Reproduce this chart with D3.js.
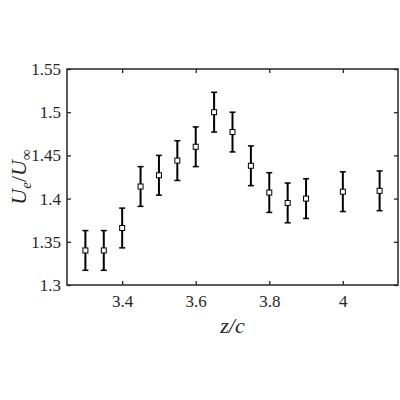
<!DOCTYPE html>
<html>
<head>
	<meta charset="utf-8">
	<script src="https://cdnjs.cloudflare.com/ajax/libs/d3/7.8.5/d3.min.js"></script>
	<style>
		body { margin: 0; background: #fff; }
	</style>
</head>
<body>
	<script>
		// positions along the span and measured velocity ratio
		const zc = [3.30, 3.35, 3.40, 3.45, 3.50, 3.55, 3.60, 3.65, 3.70, 3.75, 3.80, 3.85, 3.90, 4.00, 4.10];
		const ue = [1.340, 1.340, 1.366, 1.414, 1.427, 1.444, 1.460, 1.500, 1.477, 1.438, 1.407, 1.395, 1.400, 1.408, 1.409];
		const err = [0.023, 0.023, 0.023, 0.023, 0.023, 0.023, 0.023, 0.023, 0.023, 0.023, 0.023, 0.023, 0.023, 0.023, 0.023];
		const xTicks = [3.4, 3.6, 3.8, 4];
		const yTicks = [1.3, 1.35, 1.4, 1.45, 1.5, 1.55];

		const FONT = '"Liberation Serif"';
		const W = 400, H = 400;
		const m = {left: 67, right: 2, top: 69, bottom: 115};
		const iw = W - m.left - m.right, ih = H - m.top - m.bottom;

		const svg = d3.select('body').append('svg')
			.attr('width', W)
			.attr('height', H);

		const x = d3.scaleLinear().domain([3.25, 4.15]).range([0, iw]);
		const y = d3.scaleLinear().domain([1.3, 1.55]).range([ih, 0]);

		const g = svg.append('g').attr('transform', `translate(${m.left},${m.top})`);

		const fmt = d => String(+d.toFixed(2));

		function styleAxis(sel) {
			sel.attr('font-family', null).attr('font-size', null);
			sel.select('.domain').remove();
			sel.selectAll('.tick line').attr('stroke', '#262626').attr('stroke-width', 1.3);
			sel.selectAll('.tick text')
				.style('font-family', FONT)
				.style('font-size', '17px')
				.attr('fill', '#262626');
		}

		g.append('g').attr('transform', `translate(0,${ih})`)
			.call(d3.axisBottom(x).tickValues(xTicks).tickSize(-4).tickPadding(10).tickFormat(fmt))
			.call(styleAxis);
		g.append('g')
			.call(d3.axisTop(x).tickValues(xTicks).tickSize(-4).tickFormat(''))
			.call(styleAxis);
		g.append('g')
			.call(d3.axisLeft(y).tickValues(yTicks).tickSize(-4).tickPadding(6).tickFormat(fmt))
			.call(styleAxis);
		g.append('g').attr('transform', `translate(${iw},0)`)
			.call(d3.axisRight(y).tickValues(yTicks).tickSize(-4).tickFormat(''))
			.call(styleAxis);

		g.append('rect')
			.attr('width', iw).attr('height', ih)
			.attr('fill', 'none').attr('stroke', '#262626').attr('stroke-width', 1.5);

		const pts = zc.map((z, i) => ({z: z, u: ue[i], e: err[i]}));

		const bars = g.selectAll('.bar').data(pts).enter().append('g').attr('class', 'bar');
		bars.append('line')
			.attr('x1', d => x(d.z)).attr('x2', d => x(d.z))
			.attr('y1', d => y(d.u - d.e)).attr('y2', d => y(d.u + d.e))
			.attr('stroke', '#000').attr('stroke-width', 2);
		bars.append('line')
			.attr('x1', d => x(d.z) - 3).attr('x2', d => x(d.z) + 3)
			.attr('y1', d => y(d.u + d.e)).attr('y2', d => y(d.u + d.e))
			.attr('stroke', '#000').attr('stroke-width', 1.5);
		bars.append('line')
			.attr('x1', d => x(d.z) - 3).attr('x2', d => x(d.z) + 3)
			.attr('y1', d => y(d.u - d.e)).attr('y2', d => y(d.u - d.e))
			.attr('stroke', '#000').attr('stroke-width', 1.5);
		bars.append('rect')
			.attr('x', d => x(d.z) - 2.5).attr('y', d => y(d.u) - 2.5)
			.attr('width', 5).attr('height', 5)
			.attr('fill', '#fff').attr('stroke', '#000').attr('stroke-width', 1);

		// axis labels
		svg.append('text')
			.attr('x', m.left + iw / 2).attr('y', 333)
			.attr('text-anchor', 'middle')
			.attr('fill', '#262626')
			.style('font-family', FONT)
			.style('font-size', '22px').style('font-style', 'italic')
			.text('z/c');

		const yl = svg.append('text')
			.attr('transform', `translate(26,${m.top + ih / 2}) rotate(-90)`)
			.attr('text-anchor', 'middle')
			.attr('fill', '#262626')
			.style('font-family', FONT)
			.style('font-size', '22px').style('font-style', 'italic');
		yl.append('tspan').text('U');
		yl.append('tspan').attr('dy', 5).style('font-size', '15px').text('e');
		yl.append('tspan').attr('dy', -5).style('font-style', 'normal').text('/');
		yl.append('tspan').text('U');
		yl.append('tspan').attr('dy', 5).style('font-size', '15px').style('font-style', 'normal').text('∞');
	</script>
</body>
</html>
